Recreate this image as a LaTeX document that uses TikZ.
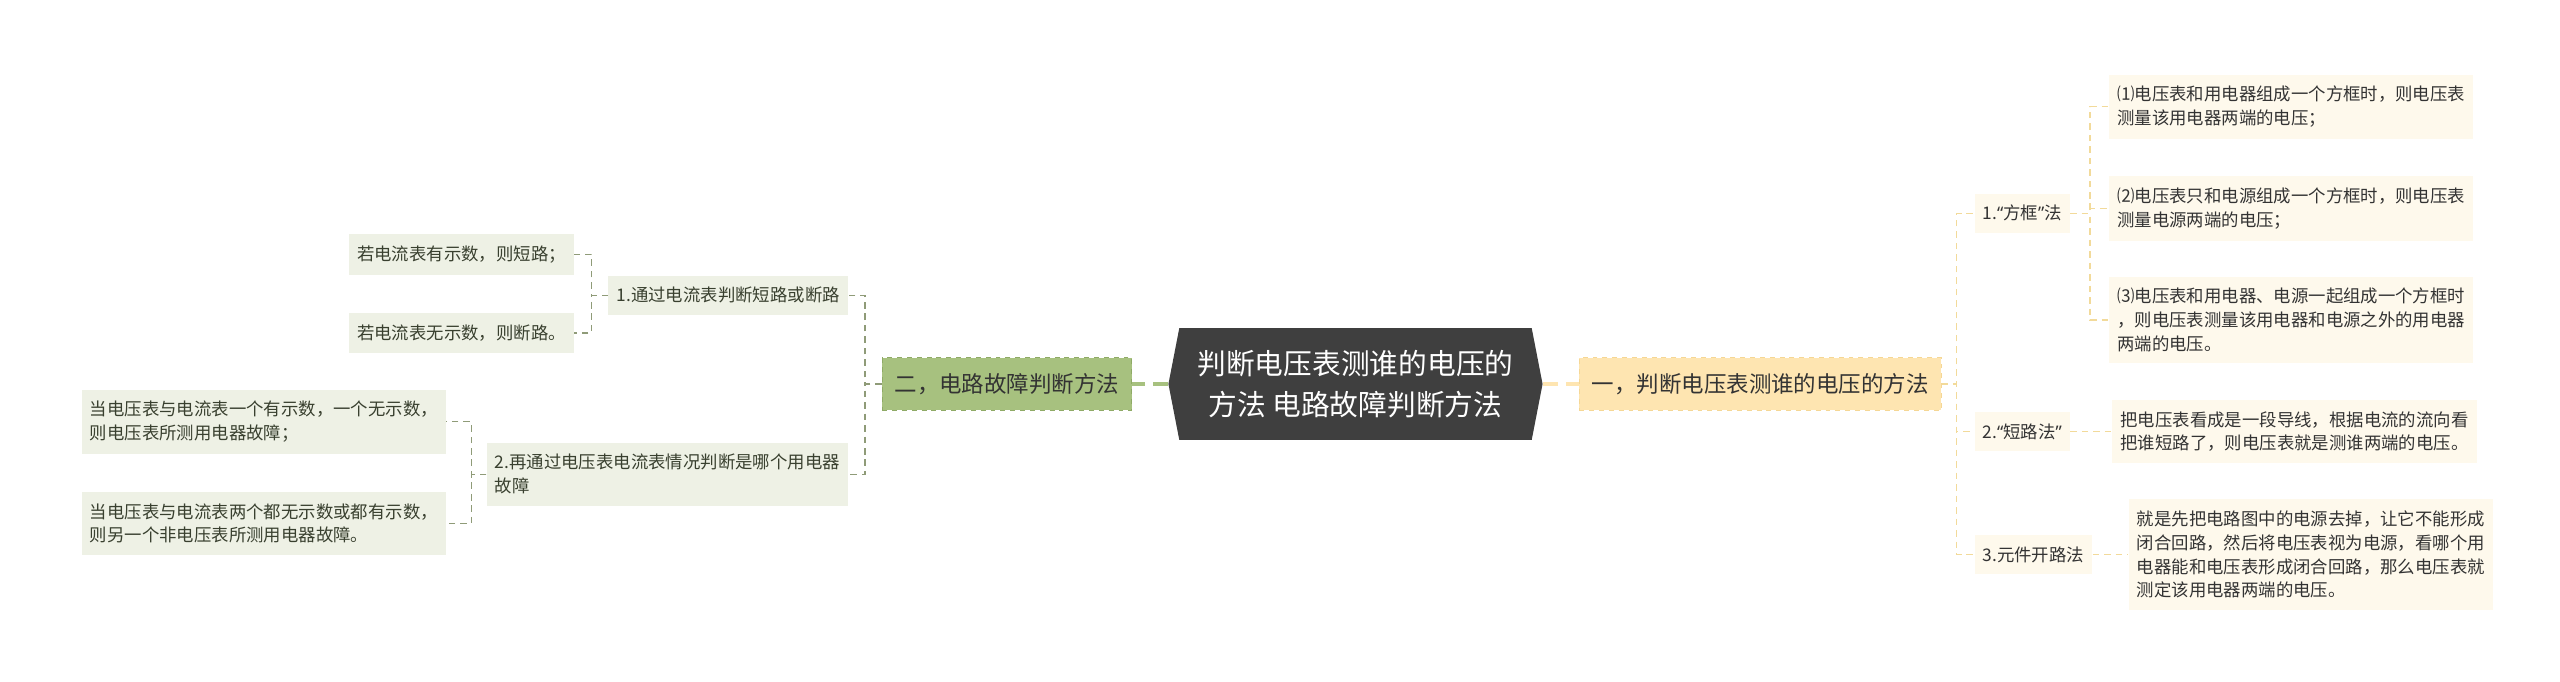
\documentclass[tikz,border=0pt]{standalone}
\usepackage{fontspec}
\setmainfont{Noto Sans CJK SC}
\newfontfamily\westfont{Noto Sans}
\usetikzlibrary{shapes.symbols}
\definecolor{rootgray}{HTML}{3F3F3F}
\definecolor{voltfill}{HTML}{FEE5B1}
\definecolor{voltdraw}{HTML}{F5D795}
\definecolor{faultfill}{HTML}{A7C17F}
\definecolor{faultdraw}{HTML}{8FAA66}
\definecolor{creamfill}{HTML}{FEF9EC}
\definecolor{sagefill}{HTML}{EEF1E5}
\definecolor{rightline}{HTML}{F2DA9A}
\definecolor{leftline}{HTML}{8F9B78}
\definecolor{righttext}{HTML}{333333}
\definecolor{lefttext}{HTML}{39402F}
\newcommand{\openq}{{\westfont “}}
\newcommand{\closeq}{{\westfont ”}}
\begin{document}
\begin{tikzpicture}[
    x=1pt, y=-1pt,
    box/.style={rectangle, inner xsep=5pt, inner ysep=7pt, align=left, font=\fontsize{10.6}{14.5}\selectfont},
    cream/.style={box, fill=creamfill, text=righttext},
    sage/.style={box, fill=sagefill, text=lefttext},
    mainbox/.style={rectangle, dashed, line width=0.8pt, inner xsep=7.5pt, inner ysep=9.5pt, font=\fontsize{13.7}{16}\selectfont, text=righttext},
    root/.style={signal, signal to=west and east, signal pointer angle=158, fill=rootgray, text=white, align=center, minimum width=228pt, minimum height=68pt, inner xsep=4pt, font=\fontsize{17.5}{25}\selectfont},
    link/.style={dash pattern=on 4pt off 3pt, line width=0.9pt},
    rootlink/.style={dash pattern=on 9pt off 5pt, line width=2.5pt}
]
    \useasboundingbox (0,0) rectangle (1560,415);

    % 中心主题
    \node[root] (root) at (826,234) {判断电压表测谁的电压的\\方法 电路故障判断方法};

    % 一，判断电压表测谁的电压的方法
    \node[mainbox, fill=voltfill, draw=voltdraw, anchor=west] (volt) at (962,234) {一，判断电压表测谁的电压的方法};

    \node[cream, anchor=west] (frame) at (1203,130) {1.\openq 方框\closeq 法};
    \node[cream, anchor=west] (short) at (1203,263) {2.\openq 短路法\closeq};
    \node[cream, anchor=west] (open) at (1203,338) {3.元件开路法};

    \node[cream, anchor=west] (frame1) at (1285,65) {⑴电压表和用电器组成一个方框时，则电压表\\测量该用电器两端的电压；};
    \node[cream, anchor=west] (frame2) at (1285,127) {⑵电压表只和电源组成一个方框时，则电压表\\测量电源两端的电压；};
    \node[cream, anchor=west] (frame3) at (1285,195) {⑶电压表和用电器、电源一起组成一个方框时\\，则电压表测量该用电器和电源之外的用电器\\两端的电压。};
    \node[cream, anchor=west] (shorttip) at (1287,263) {把电压表看成是一段导线，根据电流的流向看\\把谁短路了，则电压表就是测谁两端的电压。};
    \node[cream, anchor=west] (opentip) at (1297,338) {就是先把电路图中的电源去掉，让它不能形成\\闭合回路，然后将电压表视为电源，看哪个用\\电器能和电压表形成闭合回路，那么电压表就\\测定该用电器两端的电压。};

    \draw[rootlink, voltfill] (root.east) -- (volt.west);
    \draw[link, rightline] (volt.east) -- ++(9,0) |- (frame.west);
    \draw[link, rightline] (volt.east) -- ++(9,0) |- (short.west);
    \draw[link, rightline] (volt.east) -- ++(9,0) |- (open.west);
    \draw[link, rightline] (frame.east) -- ++(12,0) |- (frame1.west);
    \draw[link, rightline] (frame.east) -- ++(12,0) |- (frame2.west);
    \draw[link, rightline] (frame.east) -- ++(12,0) |- (frame3.west);
    \draw[link, rightline] (short.east) -- (shorttip.west);
    \draw[link, rightline] (open.east) -- (opentip.west);

    % 二，电路故障判断方法
    \node[mainbox, fill=faultfill, draw=faultdraw, anchor=east] (fault) at (690,234) {二，电路故障判断方法};

    \node[sage, anchor=east] (ammeter) at (517,180) {1.通过电流表判断短路或断路};
    \node[sage, anchor=east] (meters) at (517,289) {2.再通过电压表电流表情况判断是哪个用电器\\故障};

    \node[sage, anchor=east] (ammeter1) at (350,155) {若电流表有示数，则短路；};
    \node[sage, anchor=east] (ammeter2) at (350,203) {若电流表无示数，则断路。};
    \node[sage, anchor=east] (meters1) at (272,257) {当电压表与电流表一个有示数，一个无示数，\\则电压表所测用电器故障；};
    \node[sage, anchor=east] (meters2) at (272,319) {当电压表与电流表两个都无示数或都有示数，\\则另一个非电压表所测用电器故障。};

    \draw[rootlink, faultfill] (root.west) -- (fault.east);
    \draw[link, leftline] (fault.west) -- ++(-10,0) |- (ammeter.east);
    \draw[link, leftline] (fault.west) -- ++(-10,0) |- (meters.east);
    \draw[link, leftline] (ammeter.west) -- ++(-10,0) |- (ammeter1.east);
    \draw[link, leftline] (ammeter.west) -- ++(-10,0) |- (ammeter2.east);
    \draw[link, leftline] (meters.west) -- ++(-9,0) |- (meters1.east);
    \draw[link, leftline] (meters.west) -- ++(-9,0) |- (meters2.east);
\end{tikzpicture}
\end{document}
